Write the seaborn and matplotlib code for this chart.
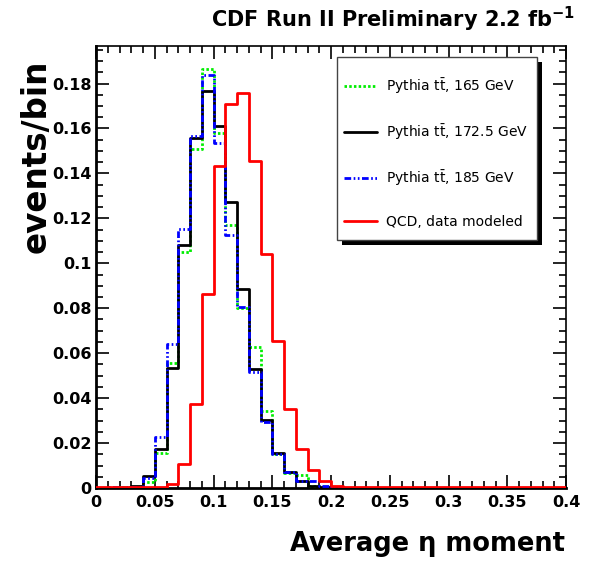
import numpy as np
import pandas as pd
import matplotlib
matplotlib.use("Agg")
import matplotlib.pyplot as plt
import seaborn as sns
from matplotlib.lines import Line2D
from matplotlib.patches import Rectangle
from matplotlib.ticker import MultipleLocator, FuncFormatter

# Histogram binning: 40 bins of width 0.01 on [0, 0.4]
x_lo, x_hi, n_bins = 0.0, 0.4, 40

# Normalised bin contents (events/bin), one value per bin
tt_165 = [0.0, 0.0, 0.0003, 0.0005, 0.0025, 0.0154, 0.0558, 0.1050, 0.1507, 0.1865,
          0.1580, 0.1170, 0.0800, 0.0626, 0.0344, 0.0151, 0.0065, 0.0060, 0.0010, 0.0003,
          0.0, 0.0, 0.0, 0.0, 0.0, 0.0, 0.0, 0.0, 0.0, 0.0,
          0.0, 0.0, 0.0, 0.0, 0.0, 0.0, 0.0, 0.0, 0.0, 0.0]
tt_1725 = [0.0, 0.0, 0.0002, 0.0008, 0.0053, 0.0173, 0.0532, 0.1083, 0.1557, 0.1765,
           0.1610, 0.1273, 0.0885, 0.0530, 0.0303, 0.0157, 0.0070, 0.0030, 0.0009, 0.0003,
           0.0, 0.0, 0.0, 0.0, 0.0, 0.0, 0.0, 0.0, 0.0, 0.0,
           0.0, 0.0, 0.0, 0.0, 0.0, 0.0, 0.0, 0.0, 0.0, 0.0]
tt_185 = [0.0, 0.0004, 0.0005, 0.0006, 0.0043, 0.0228, 0.0640, 0.1151, 0.1567, 0.1840,
          0.1535, 0.1124, 0.0806, 0.0515, 0.0295, 0.0153, 0.0073, 0.0030, 0.0030, 0.0010,
          0.0, 0.0, 0.0, 0.0, 0.0, 0.0, 0.0, 0.0, 0.0, 0.0,
          0.0, 0.0, 0.0, 0.0, 0.0, 0.0, 0.0, 0.0, 0.0, 0.0]
qcd = [0.0004, 0.0004, 0.0004, 0.0004, 0.0004, 0.0004, 0.0018, 0.0107, 0.0372, 0.0865,
       0.1433, 0.1707, 0.1759, 0.1456, 0.1041, 0.0654, 0.0353, 0.0174, 0.0082, 0.0033,
       0.0009, 0.0004, 0.0004, 0.0004, 0.0004, 0.0004, 0.0004, 0.0004, 0.0004, 0.0004,
       0.0004, 0.0004, 0.0004, 0.0004, 0.0004, 0.0004, 0.0004, 0.0004, 0.0004, 0.0004]

labels = [r"Pythia t$\bar{\rm t}$, 165 GeV",
          r"Pythia t$\bar{\rm t}$, 172.5 GeV",
          r"Pythia t$\bar{\rm t}$, 185 GeV",
          "QCD, data modeled"]
colors = ["#00ee00", "#000000", "#0000ff", "#ff0000"]
styles = [(0, (0.9, 0.8)), "-", (0, (2.4, 0.9, 0.6, 0.9, 0.6, 0.9)), "-"]

x_ticks_major, x_ticks_minor = 0.05, 0.01
y_ticks_major, y_ticks_minor = 0.02, 0.005
y_top = 0.1967

sns.set_style("ticks")
plt.rcParams.update({
    "font.family": ["DejaVu Sans"],
    "mathtext.fontset": "dejavusans",
    "text.color": "black",
    "axes.labelcolor": "black",
    "axes.edgecolor": "black",
    "xtick.color": "black",
    "ytick.color": "black",
})

W, H = 598, 563
fig = plt.figure(figsize=(W / 100, H / 100), dpi=100)
ax = fig.add_axes([96 / W, 1 - 488 / H, 470 / W, 442 / H])

edges = np.linspace(x_lo, x_hi, n_bins + 1)
centers = 0.5 * (edges[:-1] + edges[1:])
series = [tt_165, tt_1725, tt_185, qcd]

df = pd.DataFrame({
    "x": np.tile(centers, len(series)),
    "w": np.concatenate(series),
    "sample": np.repeat(labels, n_bins),
})

for lab, col, ls in zip(labels, colors, styles):
    sub = df[df["sample"] == lab]
    sns.histplot(data=sub, x="x", weights="w", bins=n_bins, binrange=(x_lo, x_hi),
                 element="step", fill=False, color=col, linewidth=2.0,
                 linestyle=ls, ax=ax, zorder=3)

ax.set_xlim(x_lo, x_hi)
ax.set_ylim(0, y_top)
ax.set_xlabel("")
ax.set_ylabel("")

ax.xaxis.set_major_locator(MultipleLocator(x_ticks_major))
ax.xaxis.set_minor_locator(MultipleLocator(x_ticks_minor))
ax.yaxis.set_major_locator(MultipleLocator(y_ticks_major))
ax.yaxis.set_minor_locator(MultipleLocator(y_ticks_minor))
fmt = FuncFormatter(lambda v, p: f"{v:.2f}".rstrip("0").rstrip(".") if abs(v) > 1e-9 else "0")
ax.xaxis.set_major_formatter(fmt)
ax.yaxis.set_major_formatter(fmt)

ax.tick_params(which="both", direction="in", top=True, right=True, width=1.2,
               color="black", labelcolor="black")
ax.tick_params(which="major", length=9.5)
ax.tick_params(which="minor", length=5)
ax.tick_params(axis="x", which="major", pad=5)
ax.tick_params(axis="y", which="major", pad=3)
for lbl in ax.get_xticklabels() + ax.get_yticklabels():
    lbl.set_fontsize(11.5)
    lbl.set_fontweight("bold")

for side in ["left", "bottom"]:
    ax.spines[side].set_linewidth(2.0)
for side in ["top", "right"]:
    ax.spines[side].set_linewidth(1.2)
    ax.spines[side].set_visible(True)

# Titles
fig.text(575 / W, 1 - 27 / H, r"CDF Run II Preliminary 2.2 fb$^{\mathbf{-1}}$",
         ha="right", va="baseline", fontsize=15, fontweight="bold")
fig.text(36 / W, 1 - 60 / H, "events/bin", rotation=90, ha="center", va="top",
         fontsize=23.5, fontweight="bold")
fig.text(565 / W, 1 - 551 / H, "Average η moment", ha="right", va="baseline",
         fontsize=18.5, fontweight="bold")

# Legend box with a solid drop shadow
bx0, by0, bw, bh = 337, 57, 200, 183
fig.patches.append(Rectangle(((bx0 + 5) / W, 1 - (by0 + bh + 5) / H), bw / W, bh / H,
                             transform=fig.transFigure, facecolor="black",
                             edgecolor="none", zorder=3))
fig.patches.append(Rectangle((bx0 / W, 1 - (by0 + bh) / H), bw / W, bh / H,
                             transform=fig.transFigure, facecolor="white",
                             edgecolor="#444444", linewidth=1.0, zorder=4))

handles = [Line2D([], [], color=c, linestyle=s, linewidth=2.0)
           for c, s in zip(colors, styles)]
fig.legend(handles, labels, loc="upper left",
           bbox_to_anchor=(344 / W, 1 - 76 / H), bbox_transform=fig.transFigure,
           frameon=False, fontsize=10, borderpad=0, borderaxespad=0,
           handlelength=2.4, handletextpad=0.65, labelspacing=1.9).set_zorder(5)

fig.savefig("out.png", dpi=100)
